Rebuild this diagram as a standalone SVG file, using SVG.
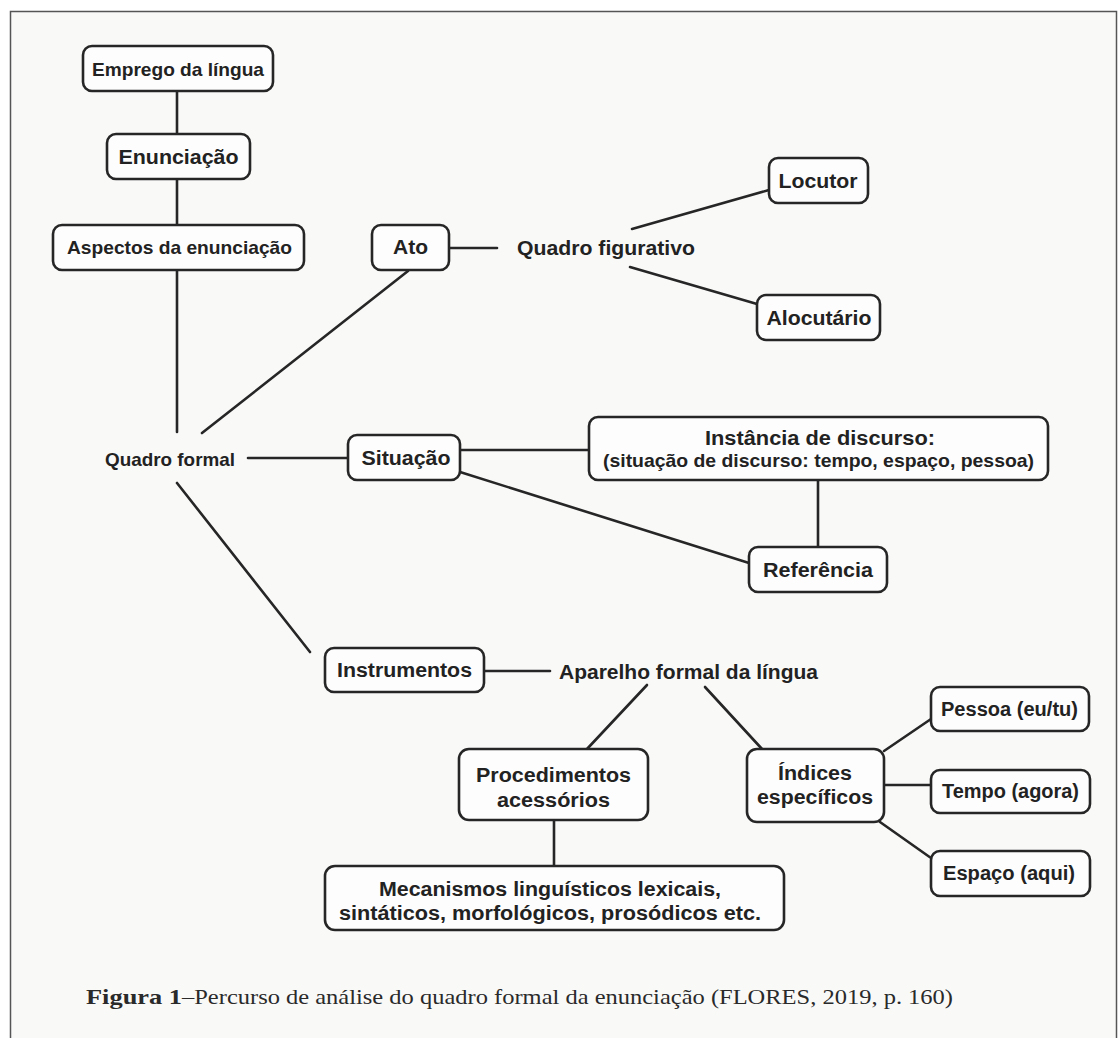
<svg xmlns="http://www.w3.org/2000/svg" width="1120" height="1038" viewBox="0 0 1120 1038">
<style>
.box{fill:#fdfdfd;stroke:#262626;stroke-width:2.6}
.c line{stroke:#262626;stroke-width:2.6;stroke-linecap:round}
text{font-family:"Liberation Sans",Arial,sans-serif;font-weight:bold;fill:#222;text-anchor:middle;dominant-baseline:central}
.s{font-size:18.5px}
.m{font-size:20px}
.cap{font-family:"Liberation Serif","Times New Roman",serif;font-size:21px;fill:#2a2a2a;text-anchor:start;dominant-baseline:alphabetic}
.cap.n{font-weight:normal}
</style>
<rect x="0" y="0" width="1120" height="1038" fill="#ffffff"/>
<rect x="10.5" y="11.5" width="1106" height="1040" fill="#f9f9f8" stroke="#555" stroke-width="1.5"/>
<g class="c" id="connectors">
<line x1="177" y1="91" x2="177" y2="134"/>
<line x1="177" y1="179" x2="177" y2="225"/>
<line x1="177" y1="270" x2="177" y2="432"/>
<line x1="202" y1="433" x2="408" y2="271"/>
<line x1="449" y1="248" x2="497" y2="248"/>
<line x1="632" y1="229" x2="769" y2="190"/>
<line x1="630" y1="267" x2="757" y2="304"/>
<line x1="248" y1="458" x2="348" y2="458"/>
<line x1="460" y1="450" x2="589" y2="450"/>
<line x1="460" y1="472" x2="749" y2="563"/>
<line x1="818" y1="480" x2="818" y2="547"/>
<line x1="177" y1="483" x2="310" y2="652"/>
<line x1="484" y1="671" x2="550" y2="671"/>
<line x1="647" y1="685" x2="587" y2="749"/>
<line x1="705" y1="687" x2="762" y2="749"/>
<line x1="554" y1="820" x2="554" y2="866"/>
<line x1="884" y1="751" x2="931" y2="719"/>
<line x1="884" y1="785" x2="931" y2="785"/>
<line x1="880" y1="822" x2="931" y2="858"/>
</g>
<g id="emprego"><rect class="box" x="83" y="46" width="190" height="45" rx="9"/><text class="s" x="178" y="69" textLength="172" lengthAdjust="spacingAndGlyphs">Emprego da língua</text></g>
<g id="enunciacao"><rect class="box" x="107" y="134" width="143" height="45" rx="9"/><text class="m" x="178.5" y="157" textLength="120" lengthAdjust="spacingAndGlyphs">Enunciação</text></g>
<g id="aspectos"><rect class="box" x="53" y="225" width="251" height="45" rx="9"/><text class="s" x="179.5" y="247" textLength="225" lengthAdjust="spacingAndGlyphs">Aspectos da enunciação</text></g>
<g id="ato"><rect class="box" x="372" y="225" width="77" height="45" rx="9"/><text class="m" x="410.5" y="247" textLength="35" lengthAdjust="spacingAndGlyphs">Ato</text></g>
<g id="quadro-figurativo"><text class="m" x="606" y="248" textLength="178" lengthAdjust="spacingAndGlyphs">Quadro figurativo</text></g>
<g id="locutor"><rect class="box" x="769" y="158" width="99" height="45" rx="9"/><text class="m" x="818" y="181" textLength="79" lengthAdjust="spacingAndGlyphs">Locutor</text></g>
<g id="alocutario"><rect class="box" x="757" y="295" width="123" height="45" rx="9"/><text class="m" x="819" y="318" textLength="105" lengthAdjust="spacingAndGlyphs">Alocutário</text></g>
<g id="quadro-formal"><text class="s" x="170" y="459" textLength="130" lengthAdjust="spacingAndGlyphs">Quadro formal</text></g>
<g id="situacao"><rect class="box" x="348" y="435" width="112" height="45" rx="9"/><text class="m" x="406" y="458" textLength="89" lengthAdjust="spacingAndGlyphs">Situação</text></g>
<g id="instancia"><rect class="box" x="589" y="417" width="459" height="63" rx="9"/><text class="m" x="820" y="438" textLength="230" lengthAdjust="spacingAndGlyphs">Instância de discurso:</text><text class="s" x="818.5" y="460" textLength="431" lengthAdjust="spacingAndGlyphs">(situação de discurso: tempo, espaço, pessoa)</text></g>
<g id="referencia"><rect class="box" x="749" y="547" width="138" height="45" rx="9"/><text class="m" x="818" y="570" textLength="110" lengthAdjust="spacingAndGlyphs">Referência</text></g>
<g id="instrumentos"><rect class="box" x="325" y="648" width="159" height="44" rx="9"/><text class="m" x="404.5" y="670" textLength="135" lengthAdjust="spacingAndGlyphs">Instrumentos</text></g>
<g id="aparelho"><text class="m" x="688.5" y="672" textLength="259" lengthAdjust="spacingAndGlyphs">Aparelho formal da língua</text></g>
<g id="procedimentos"><rect class="box" x="459" y="749" width="189" height="71" rx="10"/><text class="m" x="553.5" y="775" textLength="155" lengthAdjust="spacingAndGlyphs">Procedimentos</text><text class="m" x="553.5" y="800" textLength="113" lengthAdjust="spacingAndGlyphs">acessórios</text></g>
<g id="indices"><rect class="box" x="747" y="749" width="137" height="73" rx="10"/><text class="m" x="815" y="773" textLength="74" lengthAdjust="spacingAndGlyphs">Índices</text><text class="m" x="815" y="797" textLength="116" lengthAdjust="spacingAndGlyphs">específicos</text></g>
<g id="pessoa"><rect class="box" x="931" y="687" width="158" height="44" rx="9"/><text class="m" x="1009.5" y="709" textLength="137" lengthAdjust="spacingAndGlyphs">Pessoa (eu/tu)</text></g>
<g id="tempo"><rect class="box" x="931" y="770" width="159" height="43" rx="9"/><text class="m" x="1010.5" y="791" textLength="137" lengthAdjust="spacingAndGlyphs">Tempo (agora)</text></g>
<g id="espaco"><rect class="box" x="931" y="851" width="159" height="45" rx="9"/><text class="m" x="1009" y="873" textLength="132" lengthAdjust="spacingAndGlyphs">Espaço (aqui)</text></g>
<g id="mecanismos"><rect class="box" x="325" y="866" width="459" height="64" rx="10"/><text class="m" x="550" y="889" textLength="342" lengthAdjust="spacingAndGlyphs">Mecanismos linguísticos lexicais,</text><text class="m" x="550" y="913" textLength="422" lengthAdjust="spacingAndGlyphs">sintáticos, morfológicos, prosódicos etc.</text></g>
<g id="caption"><text class="cap" x="86" y="1004" textLength="96" lengthAdjust="spacingAndGlyphs">Figura 1</text><text class="cap n" x="182" y="1004" textLength="771" lengthAdjust="spacingAndGlyphs">–Percurso de análise do quadro formal da enunciação (FLORES, 2019, p. 160)</text></g>
</svg>
